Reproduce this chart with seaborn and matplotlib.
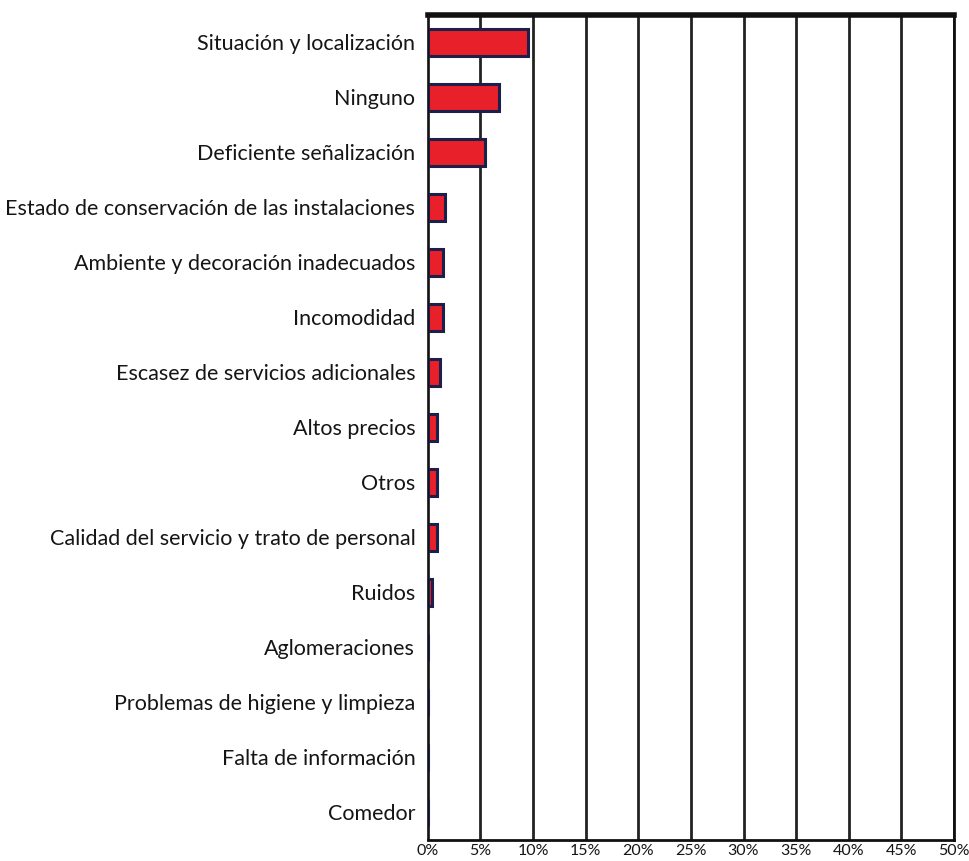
import pandas as pd
import matplotlib
matplotlib.use("Agg")
import matplotlib.pyplot as plt
import seaborn as sns

# Categories and values (percent)
categories = [
    'Situación y localización',
    'Ninguno',
    'Deficiente señalización',
    'Estado de conservación de las instalaciones',
    'Ambiente y decoración inadecuados',
    'Incomodidad',
    'Escasez de servicios adicionales',
    'Altos precios',
    'Otros',
    'Calidad del servicio y trato de personal',
    'Ruidos',
    'Aglomeraciones',
    'Problemas de higiene y limpieza',
    'Falta de información',
    'Comedor',
]
values = [9.5, 6.8, 5.4, 1.6, 1.4, 1.4, 1.2, 0.9, 0.9, 0.9, 0.4, 0, 0, 0, 0]
x_ticks = [0, 5, 10, 15, 20, 25, 30, 35, 40, 45, 50]

df = pd.DataFrame({'Motivo': categories, 'Porcentaje': values})

sns.set_style('white')
plt.rcParams['font.family'] = ['Lato', 'DejaVu Sans']

fig = plt.figure(figsize=(9.7, 8.61), dpi=100)
ax = fig.add_axes([0.441, 0.0244, 0.5425, 0.9582])

sns.barplot(data=df, x='Porcentaje', y='Motivo', orient='h', color='#e8202a',
            edgecolor='#1c1f4a', linewidth=2.2, width=0.48, saturation=1, ax=ax)

ax.set_xlim(0, 50)
ax.set_ylim(len(categories) - 0.5, -0.5)
ax.set_xticks(x_ticks)
ax.set_xticklabels([f'{t}%' for t in x_ticks], fontsize=11.5)
ax.set_xlabel('')
ax.set_ylabel('')
ax.tick_params(axis='y', labelsize=15.5, length=0, pad=9, labelcolor='#151515')
ax.tick_params(axis='x', length=0, pad=3, labelcolor='#151515')

# vertical grid lines every 5%
ax.set_axisbelow(True)
ax.xaxis.grid(True, color='#222222', linewidth=2)

for side in ['top', 'bottom', 'left', 'right']:
    ax.spines[side].set_color('#111111')
ax.spines['top'].set_linewidth(4)
ax.spines['bottom'].set_linewidth(2)
ax.spines['left'].set_linewidth(1.2)
ax.spines['right'].set_linewidth(2)

fig.savefig('out.png', dpi=100)
